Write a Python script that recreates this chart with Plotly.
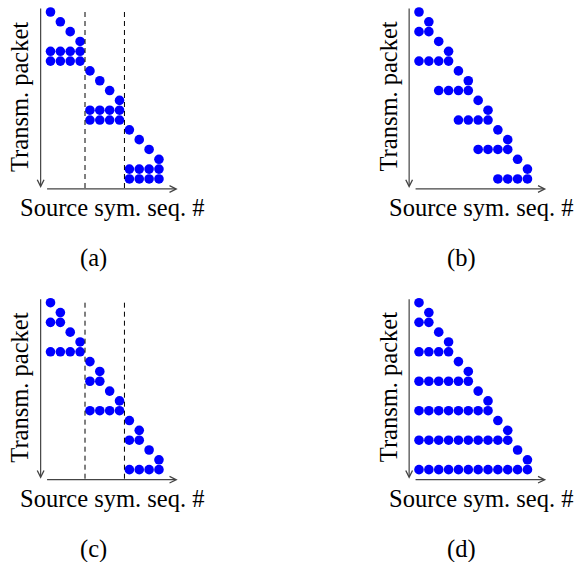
import plotly.graph_objects as go

W, H = 576, 562

# ---- data: for each transmitted packet (row), the range of source symbols it carries ----
ROWS_A = [(1, 1), (2, 2), (3, 3), (4, 4), (1, 4), (1, 4),
          (5, 5), (6, 6), (7, 7), (8, 8), (5, 8), (5, 8),
          (9, 9), (10, 10), (11, 11), (12, 12), (9, 12), (9, 12)]
ROWS_B = [(1, 1), (2, 2), (1, 2), (3, 3), (4, 4), (1, 4),
          (5, 5), (6, 6), (3, 6), (7, 7), (8, 8), (5, 8),
          (9, 9), (10, 10), (7, 10), (11, 11), (12, 12), (9, 12)]
ROWS_C = [(1, 1), (2, 2), (1, 2), (3, 3), (4, 4), (1, 4),
          (5, 5), (6, 6), (5, 6), (7, 7), (8, 8), (5, 8),
          (9, 9), (10, 10), (9, 10), (11, 11), (12, 12), (9, 12)]
ROWS_D = [(1, 1), (2, 2), (1, 2), (3, 3), (4, 4), (1, 4),
          (5, 5), (6, 6), (1, 6), (7, 7), (8, 8), (1, 8),
          (9, 9), (10, 10), (1, 10), (11, 11), (12, 12), (1, 12)]
BOUNDS_A = [4.5, 8.5]
BOUNDS_B = []
BOUNDS_C = [4.5, 8.5]
BOUNDS_D = []
PANEL_LABELS = ["(a)", "(b)", "(c)", "(d)"]
X_TITLE = "Source sym. seq. #"
Y_TITLE = "Transm. packet"

panels = [(ROWS_A, BOUNDS_A), (ROWS_B, BOUNDS_B), (ROWS_C, BOUNDS_C), (ROWS_D, BOUNDS_D)]
offsets = [(0, 0), (368.5, 0), (0, 290.7), (368.5, 290.7)]

# geometry (pixels)
SX, SY = 9.86, 9.82
X1_PX, R1_PX = 50.5, 12.0
XR = [-1, 15]
YR = [20, 0]

FONT = dict(family="Liberation Serif, Times New Roman, serif", size=24.5, color="black")
AX_COLOR = "#444444"

fig = go.Figure()
layout = dict(width=W, height=H, margin=dict(l=0, r=0, t=0, b=0),
              plot_bgcolor="white", paper_bgcolor="white", showlegend=False)
annotations = []
shapes = []

for k, ((rows, bounds), (ox, oy), lab) in enumerate(zip(panels, offsets, PANEL_LABELS)):
    n = "" if k == 0 else str(k + 1)
    xa, ya = "x" + n, "y" + n
    xs, ys = [], []
    for r, (a, b) in enumerate(rows, start=1):
        for s in range(a, b + 1):
            xs.append(s)
            ys.append(r)
    fig.add_trace(go.Scatter(x=xs, y=ys, mode="markers", xaxis=xa, yaxis=ya,
                             marker=dict(color="#0000ff", size=9.6, line=dict(width=0)),
                             hoverinfo="skip"))
    x0p = X1_PX + (XR[0] - 1) * SX + ox
    x1p = X1_PX + (XR[1] - 1) * SX + ox
    ytop = R1_PX + (YR[1] - 1) * SY + oy
    ybot = R1_PX + (YR[0] - 1) * SY + oy
    axis_common = dict(visible=False, showgrid=False, zeroline=False, fixedrange=True)
    layout["xaxis" + n] = dict(domain=[x0p / W, x1p / W], range=XR, anchor=ya, **axis_common)
    layout["yaxis" + n] = dict(domain=[1 - ybot / H, 1 - ytop / H], range=YR, anchor=xa, **axis_common)

    # vertical axis arrow (pointing down)
    annotations.append(dict(x=0, y=18.92, ax=0, ay=0.5, xref=xa, yref=ya, axref=xa, ayref=ya,
                            text="", showarrow=True, arrowhead=5, arrowsize=1.1,
                            arrowwidth=1.2, arrowcolor=AX_COLOR))
    # horizontal axis arrow (pointing right)
    annotations.append(dict(x=13.9, y=19.02, ax=0.5, ay=19.02, xref=xa, yref=ya, axref=xa, ayref=ya,
                            text="", showarrow=True, arrowhead=5, arrowsize=1.1,
                            arrowwidth=1.2, arrowcolor=AX_COLOR))
    for bx in bounds:
        shapes.append(dict(type="line", xref=xa, yref=ya, x0=bx, x1=bx, y0=1, y1=19.02,
                           line=dict(color="black", width=1, dash="5px,4px")))

    # texts
    annotations.append(dict(x=(112 + ox) / W, y=1 - (208 + oy) / H, xref="paper", yref="paper",
                            text=X_TITLE, showarrow=False, font=FONT,
                            xanchor="center", yanchor="middle"))
    annotations.append(dict(x=(93 + ox) / W, y=1 - (258 + oy) / H, xref="paper", yref="paper",
                            text=lab, showarrow=False, font=FONT,
                            xanchor="center", yanchor="middle"))
    annotations.append(dict(x=(20 + ox) / W, y=1 - (97 + oy) / H, xref="paper", yref="paper",
                            text=Y_TITLE, showarrow=False, font=FONT, textangle=-90,
                            xanchor="center", yanchor="middle"))

layout["annotations"] = annotations
layout["shapes"] = shapes
fig.update_layout(**layout)
fig.write_html("out.html", config={"displayModeBar": False},
               post_script="document.body.style.margin='0px';")
